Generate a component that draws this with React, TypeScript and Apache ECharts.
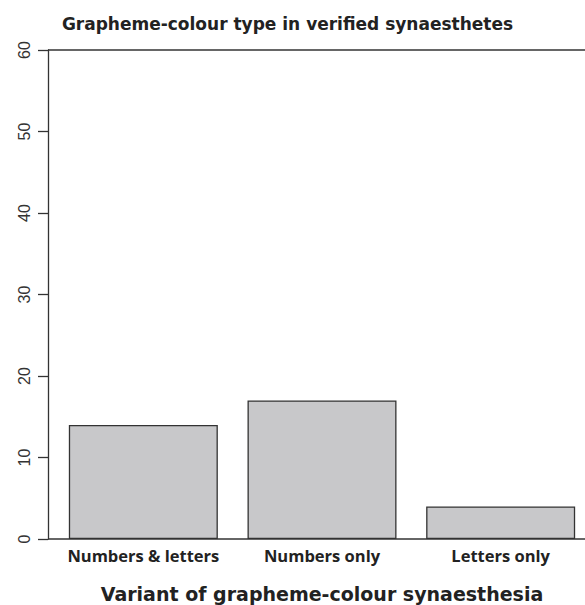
import React, { useEffect, useRef } from "react";
import * as echarts from "echarts";

const categories: string[] = ["Numbers & letters", "Numbers only", "Letters only"];
const counts: number[] = [14, 17, 4];
const yMin = 0;
const yMax = 60;
const yInterval = 10;
const mainTitle = "Grapheme-colour type in verified synaesthetes";
const xTitle = "Variant of grapheme-colour synaesthesia";

export default function App() {
  const ref = useRef<HTMLDivElement>(null);
  useEffect(() => {
    if (!ref.current) return;
    const chart = echarts.init(ref.current, null, { renderer: "svg" });
    const ink = "#333333";
    chart.setOption({
      animation: false,
      backgroundColor: "#ffffff",
      title: [
        {
          text: mainTitle,
          left: 282.5,
          top: 10,
          textAlign: "center",
          textStyle: { fontFamily: "DejaVu Sans", fontWeight: "bold", fontSize: 17, color: "#222" },
        },
        {
          text: xTitle,
          left: 317,
          top: 579,
          textAlign: "center",
          textStyle: { fontFamily: "DejaVu Sans", fontWeight: "bold", fontSize: 19, color: "#222" },
        },
      ],
      grid: {
        left: 54,
        top: 50,
        width: 536,
        height: 489,
        containLabel: false,
        outerBoundsMode: "none",
      },
      xAxis: {
        type: "category",
        data: categories,
        axisLine: { show: false },
        axisTick: { show: false },
        axisLabel: {
          margin: 8,
          fontFamily: "Open Sans",
          fontWeight: "bold",
          fontSize: 16.5,
          color: "#222",
          interval: 0,
        },
      },
      yAxis: {
        type: "value",
        min: yMin,
        max: yMax,
        interval: yInterval,
        offset: 6,
        axisLine: { show: true, lineStyle: { color: ink, width: 1.3 } },
        axisTick: { show: true, length: 10, lineStyle: { color: ink, width: 1.3 } },
        axisLabel: {
          rotate: 90,
          margin: 16,
          align: "center",
          verticalAlign: "bottom",
          fontFamily: "Liberation Sans",
          fontSize: 16,
          color: "#333",
        },
        splitLine: { show: false },
      },
      series: [
        {
          type: "bar",
          data: counts,
          barWidth: 149,
          itemStyle: { color: "#c8c8ca", borderColor: ink, borderWidth: 1.3 },
        },
      ],
      graphic: [
        { type: "line", shape: { x1: 48, y1: 50, x2: 585, y2: 50 }, style: { stroke: ink, lineWidth: 1.3 }, z: 10 },
        { type: "line", shape: { x1: 48, y1: 539, x2: 585, y2: 539 }, style: { stroke: ink, lineWidth: 1.3 }, z: 10 },
      ],
    });
    return () => chart.dispose();
  }, []);
  return (
    <div
      ref={ref}
      style={{ position: "fixed", left: 0, top: 0, width: 585, height: 605, background: "#fff" }}
    />
  );
}
